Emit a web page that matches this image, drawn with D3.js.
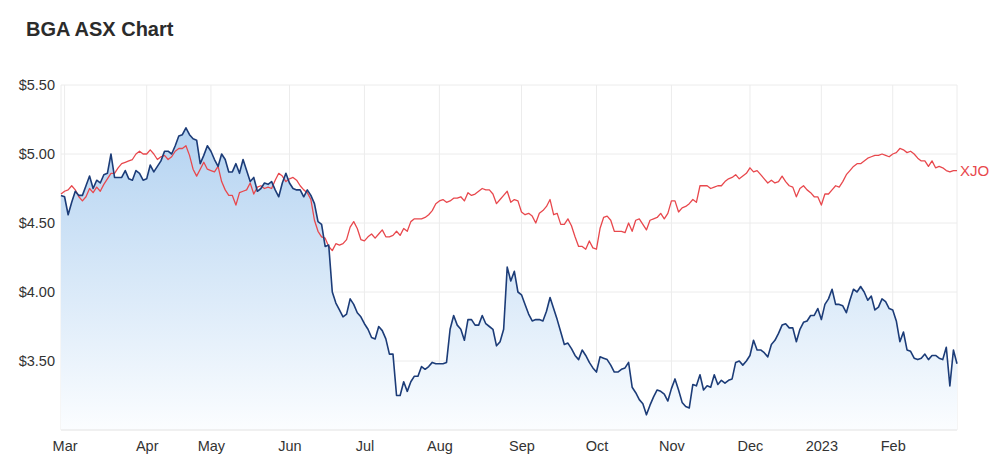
<!DOCTYPE html>
<html>
<head>
<meta charset="utf-8">
<script src="https://cdn.jsdelivr.net/npm/d3@7"></script>
<style>
  body { margin: 0; background: #fff; font-family: "Liberation Sans", Arial, Helvetica, sans-serif; }
  .axis text { fill: #333; font-size: 14.5px; }
  .grid line { stroke: #ececec; stroke-width: 1; }
</style>
</head>
<body>
<svg id="mainsvg"></svg>
<script>
// month tick positions are trading-day indexes (day 0 = 28 Feb 2022)
let monthTicks = [1, 24, 42, 64, 85, 106, 129, 150, 171, 193, 213, 233];
let monthLabels = ["Mar", "Apr", "May", "Jun", "Jul", "Aug", "Sep", "Oct", "Nov", "Dec", "2023", "Feb"];
let priceTicks = [3.5, 4.0, 4.5, 5.0, 5.5];

// BGA close, one value per trading day
let bga = [
  4.70, 4.69, 4.56, 4.65, 4.73, 4.70, 4.70, 4.77, 4.84, 4.75,
  4.81, 4.79, 4.85, 4.86, 5.00, 4.83, 4.83, 4.83, 4.88, 4.82,
  4.81, 4.88, 4.86, 4.81, 4.82, 4.92, 4.87, 4.91, 4.95, 5.02,
  5.02, 5.00, 5.06, 5.13, 5.14, 5.19, 5.14, 5.11, 5.10, 4.93,
  4.99, 5.06, 5.02, 4.96, 4.91, 5.00, 4.96, 4.87, 4.87, 4.93,
  4.86, 4.96, 4.88, 4.80, 4.83, 4.73, 4.75, 4.79, 4.78, 4.80,
  4.74, 4.69, 4.79, 4.86, 4.79, 4.75, 4.74, 4.74, 4.69, 4.74,
  4.70, 4.64, 4.51, 4.49, 4.33, 4.34, 4.00, 3.92, 3.87, 3.82,
  3.84, 3.95, 3.91, 3.85, 3.82, 3.77, 3.73, 3.67, 3.66, 3.75,
  3.72, 3.66, 3.55, 3.55, 3.25, 3.25, 3.35, 3.28, 3.35, 3.39,
  3.39, 3.46, 3.44, 3.46, 3.49, 3.48, 3.48, 3.48, 3.49, 3.73,
  3.83, 3.76, 3.73, 3.65, 3.80, 3.80, 3.76, 3.76, 3.83, 3.77,
  3.75, 3.73, 3.61, 3.64, 3.73, 4.18, 4.08, 4.15, 4.00, 3.98,
  3.91, 3.84, 3.79, 3.80, 3.80, 3.79, 3.86, 3.96, 3.88, 3.80,
  3.71, 3.62, 3.63, 3.59, 3.54, 3.51, 3.58, 3.54, 3.49, 3.45,
  3.42, 3.53, 3.52, 3.51, 3.47, 3.42, 3.42, 3.44, 3.45, 3.49,
  3.31, 3.27, 3.22, 3.19, 3.11, 3.18, 3.24, 3.29, 3.28, 3.26,
  3.21, 3.30, 3.37, 3.29, 3.20, 3.17, 3.16, 3.33, 3.32, 3.40,
  3.29, 3.32, 3.31, 3.40, 3.33, 3.36, 3.34, 3.36, 3.37, 3.49,
  3.50, 3.47, 3.50, 3.54, 3.65, 3.58, 3.58, 3.56, 3.53, 3.62,
  3.65, 3.70, 3.76, 3.77, 3.74, 3.74, 3.64, 3.73, 3.78, 3.79,
  3.83, 3.83, 3.88, 3.80, 3.91, 3.95, 4.02, 3.91, 3.91, 3.90,
  3.85, 3.94, 4.02, 4.00, 4.04, 4.00, 3.94, 3.97, 3.87, 3.89,
  3.95, 3.93, 3.88, 3.87, 3.79, 3.64, 3.71, 3.58, 3.57, 3.52,
  3.51, 3.52, 3.55, 3.51, 3.54, 3.54, 3.52, 3.51, 3.60, 3.32,
  3.58, 3.48
];

// XJO rebased to BGA's starting price
let xjo = [
  4.71, 4.73, 4.74, 4.77, 4.74, 4.69, 4.66, 4.69, 4.75, 4.72,
  4.76, 4.73, 4.78, 4.82, 4.86, 4.86, 4.90, 4.93, 4.94, 4.95,
  4.96, 5.00, 5.02, 5.00, 5.00, 5.03, 5.00, 4.96, 4.98, 4.99,
  4.96, 4.98, 5.02, 5.04, 5.04, 5.06, 4.99, 4.89, 4.84, 4.89,
  4.94, 4.89, 4.88, 4.87, 4.91, 4.80, 4.74, 4.70, 4.70, 4.63,
  4.72, 4.73, 4.74, 4.79, 4.71, 4.76, 4.77, 4.75, 4.76, 4.75,
  4.81, 4.86, 4.84, 4.80, 4.82, 4.83, 4.81, 4.77, 4.74, 4.72,
  4.67, 4.52, 4.44, 4.40, 4.39, 4.33, 4.30, 4.35, 4.34, 4.35,
  4.38, 4.47, 4.51, 4.46, 4.38, 4.37, 4.40, 4.42, 4.39, 4.42,
  4.45, 4.40, 4.40, 4.41, 4.44, 4.41, 4.46, 4.44, 4.51, 4.53,
  4.53, 4.53, 4.54, 4.56, 4.59, 4.64, 4.66, 4.67, 4.65, 4.66,
  4.68, 4.68, 4.69, 4.66, 4.72, 4.70, 4.71, 4.73, 4.75, 4.74,
  4.74, 4.71, 4.64, 4.67, 4.70, 4.73, 4.65, 4.67, 4.66, 4.58,
  4.56, 4.57, 4.55, 4.50, 4.57, 4.59, 4.62, 4.67, 4.56, 4.57,
  4.49, 4.49, 4.53, 4.48, 4.40, 4.33, 4.33, 4.31, 4.37, 4.32,
  4.31, 4.46, 4.54, 4.55, 4.52, 4.44, 4.44, 4.44, 4.43, 4.50,
  4.44, 4.52, 4.53, 4.49, 4.45, 4.52, 4.53, 4.54, 4.57, 4.53,
  4.57, 4.66, 4.66, 4.58, 4.61, 4.62, 4.64, 4.67, 4.65, 4.77,
  4.77, 4.77, 4.75, 4.76, 4.77, 4.77, 4.80, 4.82, 4.83, 4.85,
  4.82, 4.84, 4.86, 4.90, 4.87, 4.88, 4.85, 4.82, 4.79, 4.81,
  4.79, 4.80, 4.84, 4.80, 4.77, 4.76, 4.69, 4.75, 4.77, 4.74,
  4.72, 4.69, 4.69, 4.63, 4.71, 4.71, 4.74, 4.77, 4.76, 4.80,
  4.85, 4.88, 4.91, 4.93, 4.93, 4.95, 4.97, 4.98, 4.99, 4.99,
  5.00, 4.99, 4.98, 5.00, 5.01, 5.04, 5.03, 5.01, 5.02, 5.00,
  4.97, 4.95, 4.95, 4.91, 4.95, 4.90, 4.91, 4.90, 4.88, 4.87,
  4.88, 4.88
];

let mainsvg = d3.select("#mainsvg"),
    svgWidth = 1000,
    svgHeight = 464,
    plot = {left: 61, right: 957, top: 85, bottom: 430};

mainsvg.attr("width", svgWidth).attr("height", svgHeight);

let scaleX = d3.scaleLinear().domain([0, bga.length - 1]).range([plot.left, plot.right]),
    scaleY = d3.scaleLinear().domain([3.0, 5.5]).range([plot.bottom, plot.top]);

// title
mainsvg.append("text")
    .attr("x", 26).attr("y", 36)
    .attr("font-size", 20).attr("font-weight", "bold")
    .attr("fill", "#2b2b2b")
    .text("BGA ASX Chart");

// gradient for the area
let defs = mainsvg.append("defs");
let grad = defs.append("linearGradient")
    .attr("id", "bgaFill")
    .attr("gradientUnits", "userSpaceOnUse")
    .attr("x1", 0).attr("x2", 0)
    .attr("y1", plot.top).attr("y2", plot.bottom);
grad.append("stop").attr("offset", "0%").attr("stop-color", "#aacdef");
grad.append("stop").attr("offset", "100%").attr("stop-color", "#fbfdff");

// grid
let grid = mainsvg.append("g").attr("class", "grid");
grid.selectAll(".hline").data(priceTicks).enter().append("line")
    .attr("x1", plot.left).attr("x2", plot.right)
    .attr("y1", d => scaleY(d)).attr("y2", d => scaleY(d));
grid.selectAll(".vline").data(monthTicks).enter().append("line")
    .attr("x1", d => scaleX(d)).attr("x2", d => scaleX(d))
    .attr("y1", plot.top).attr("y2", plot.bottom);
grid.append("line")
    .attr("x1", plot.right).attr("x2", plot.right)
    .attr("y1", plot.top).attr("y2", plot.bottom);
grid.append("line")
    .attr("x1", plot.left).attr("x2", plot.left)
    .attr("y1", plot.top).attr("y2", plot.bottom)
    .attr("stroke", "#e2e2e2");

// area + lines
let area = d3.area()
    .x((d, i) => scaleX(i))
    .y0(plot.bottom)
    .y1(d => scaleY(d));
let line = d3.line()
    .x((d, i) => scaleX(i))
    .y(d => scaleY(d));

mainsvg.append("path")
    .datum(bga)
    .attr("d", area)
    .attr("fill", "url(#bgaFill)");

mainsvg.append("path")
    .datum(xjo)
    .attr("d", line)
    .attr("fill", "none")
    .attr("stroke", "#e8484d")
    .attr("stroke-width", 1.3)
    .attr("stroke-linejoin", "round");

mainsvg.append("path")
    .datum(bga)
    .attr("d", line)
    .attr("fill", "none")
    .attr("stroke", "#1c3c78")
    .attr("stroke-width", 1.6)
    .attr("stroke-linejoin", "round");

// bottom axis line
mainsvg.append("line")
    .attr("x1", plot.left).attr("x2", plot.right)
    .attr("y1", plot.bottom).attr("y2", plot.bottom)
    .attr("stroke", "#e2e2e2");

// axes
let axisX = d3.axisBottom(scaleX)
    .tickValues(monthTicks)
    .tickSize(0)
    .tickPadding(11)
    .tickFormat((d, i) => monthLabels[i]);
mainsvg.append("g")
    .attr("class", "axis axis--x")
    .attr("transform", `translate(0,${plot.bottom})`)
    .call(axisX)
    .call(g => g.select(".domain").remove());

let axisY = d3.axisLeft(scaleY)
    .tickValues(priceTicks)
    .tickSize(0)
    .tickPadding(6)
    .tickFormat(d => "$" + d3.format(".2f")(d));
mainsvg.append("g")
    .attr("class", "axis axis--y")
    .attr("transform", `translate(${plot.left},0)`)
    .call(axisY)
    .call(g => g.select(".domain").remove());

mainsvg.selectAll(".axis text").attr("font-family", null).attr("font-size", null);

// series label
mainsvg.append("text")
    .attr("x", scaleX(xjo.length - 1) + 3)
    .attr("y", scaleY(xjo[xjo.length - 1]))
    .attr("dy", "0.35em")
    .attr("font-size", 15)
    .attr("fill", "#e8484d")
    .text("XJO");
</script>
</body>
</html>
